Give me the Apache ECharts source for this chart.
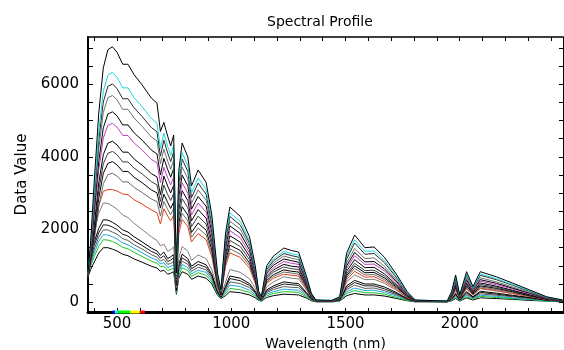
<!DOCTYPE html>
<html>
<head>
<meta charset="utf-8">
<title>Spectral Profile</title>
<script src="https://cdn.jsdelivr.net/npm/echarts@6.0.0/dist/echarts.min.js"></script>
<style>
html, body { margin: 0; padding: 0; background: #fff; }
#chart { width: 564px; height: 350px; }
</style>
</head>
<body>
<div id="chart"></div>
<script>
// wavelength samples (nm)
var wavelengths = [373,385,400,420,440,460,480,500,525,548,
  575,610,650,675,690,705,722,735,748,760,
  770,785,810,826,855,890,915,940,955,975,
  994,1040,1080,1105,1120,1132,1155,1185,1230,1265,
  1295,1330,1350,1370,1440,1475,1505,1540,1585,1625,
  1670,1725,1770,1805,1945,1965,1982,2000,2030,2058,
  2090,2160,2230,2305,2380,2450];

// spectra, brightest first
var s01 = [800,1700,3300,5200,6450,6950,7030,6880,6550,6550,
  6260,5980,5620,5480,4700,4950,4560,4300,4600,800,
  3600,4380,4000,3200,3640,3300,2400,800,340,1900,
  2620,2360,1800,1000,300,150,1000,1270,1490,1420,
  1380,700,250,60,50,150,1350,1850,1500,1520,
  1240,750,290,60,30,300,750,200,840,430,
  840,700,530,340,150,60];
var s02 = [780,1600,3000,4700,5800,6250,6330,6190,5900,5900,
  5630,5380,5060,4930,4230,4650,4290,4040,4320,750,
  3380,4120,3760,3010,3420,3100,2260,750,320,1790,
  2460,2220,1690,940,280,140,940,1190,1400,1330,
  1300,660,240,60,50,140,1260,1720,1400,1410,
  1150,700,270,60,30,280,700,190,780,400,
  780,650,490,320,140,60];
var s03 = [770,1550,2850,4450,5510,5940,6010,5880,5600,5600,
  5350,5110,4810,4690,4020,4460,4100,3870,4140,720,
  3240,3940,3600,2880,3280,2970,2160,720,310,1710,
  2360,2120,1620,900,270,140,900,1140,1340,1280,
  1240,630,230,50,40,130,1190,1630,1320,1340,
  1090,660,260,50,30,260,660,180,740,380,
  740,620,470,300,130,50];
var s04 = [760,1500,2700,4210,5220,5630,5690,5570,5310,5310,
  5070,4840,4550,4440,3810,4210,3880,3660,3910,680,
  3060,3720,3400,2720,3090,2810,2040,680,290,1620,
  2230,2010,1530,850,260,130,850,1080,1270,1210,
  1170,600,210,50,40,120,1080,1480,1200,1220,
  990,600,230,50,20,240,600,160,670,340,
  670,560,420,270,120,50];
var s05 = [740,1420,2500,3870,4800,5180,5240,5130,4880,4880,
  4660,4460,4190,4080,3500,3960,3650,3440,3680,640,
  2880,3500,3200,2560,2910,2640,1920,640,270,1520,
  2100,1890,1440,800,240,120,800,1020,1190,1140,
  1100,560,200,50,40,110,1000,1370,1110,1120,
  920,560,210,40,20,220,560,150,620,320,
  620,520,390,250,110,40];
var s06 = [730,1350,2350,3640,4520,4870,4920,4820,4590,4590,
  4380,4190,3930,3840,3290,3710,3420,3230,3450,600,
  2700,3290,3000,2400,2730,2480,1800,600,260,1430,
  1970,1770,1350,750,230,110,750,950,1120,1070,
  1040,530,190,50,30,100,930,1280,1040,1050,
  860,520,200,40,20,210,520,140,580,300,
  580,480,370,230,100,40];
var s07 = [710,1250,2100,3280,4060,4380,4430,4330,4130,4130,
  3940,3770,3540,3450,2960,3470,3190,3010,3220,560,
  2520,3070,2800,2240,2550,2310,1680,560,240,1330,
  1830,1650,1260,700,210,110,700,890,1040,990,
  970,490,180,40,30,90,850,1170,950,960,
  780,470,180,40,20,190,470,130,530,270,
  530,440,330,210,90,40];
var s08 = [700,1200,1970,3070,3810,4100,4150,4060,3860,3860,
  3690,3530,3320,3230,2770,3220,2960,2800,2990,520,
  2340,2850,2600,2080,2370,2150,1560,520,220,1240,
  1700,1530,1170,650,200,100,650,830,970,920,
  900,460,160,40,30,90,780,1070,870,880,
  720,440,170,30,20,170,440,120,490,250,
  490,410,310,200,90,30];
var s09 = [690,1150,1850,2860,3550,3820,3870,3780,3600,3600,
  3440,3290,3090,3010,2590,2970,2740,2580,2760,480,
  2160,2630,2400,1920,2180,1980,1440,480,200,1140,
  1570,1420,1080,600,180,90,600,760,890,850,
  830,420,150,40,30,80,730,1000,810,820,
  670,410,160,30,20,160,410,110,450,230,
  450,380,290,180,80,30];
var s10 = [680,1100,1700,2630,3260,3510,3550,3470,3310,3310,
  3160,3020,2840,2770,2370,2770,2550,2410,2580,450,
  2020,2450,2240,1790,2040,1850,1340,450,190,1060,
  1470,1320,1010,560,170,80,560,710,830,800,
  770,390,140,30,30,80,680,930,750,760,
  620,380,150,30,20,150,380,100,420,220,
  420,350,270,170,80,30];
var s11 = [680,1150,1800,2650,3050,3100,3100,3060,2980,2960,
  2820,2700,2540,2460,2150,2570,2370,2240,2390,420,
  1870,2280,2080,1660,1890,1720,1250,420,180,990,
  1360,1230,940,520,160,80,520,660,770,740,
  720,360,130,30,20,70,620,850,690,700,
  570,350,130,30,10,140,350,90,390,200,
  390,320,240,160,70,30];
var s12 = [900,1350,1950,2450,2730,2720,2650,2560,2400,2330,
  2170,2000,1800,1700,1550,1600,1400,1450,1520,400,
  1200,1530,1400,1150,1300,1200,900,350,180,550,
  900,820,640,380,150,80,420,560,700,660,
  640,330,130,40,30,80,560,750,620,630,
  520,320,130,40,20,120,300,90,360,190,
  370,310,240,160,80,40];
var s13 = [860,1200,1650,2030,2270,2260,2200,2120,1990,1930,
  1800,1660,1490,1410,1290,1380,1200,1250,1310,340,
  1030,1320,1200,990,1120,1030,770,300,150,440,
  720,660,510,300,120,60,340,450,560,530,
  510,260,100,30,20,60,450,600,500,500,
  420,260,100,30,20,100,240,70,290,150,
  300,250,190,130,60,30];
var s14 = [840,1150,1560,1910,2130,2120,2070,2000,1870,1820,
  1690,1560,1400,1330,1210,1280,1120,1160,1220,320,
  960,1220,1120,920,1040,960,720,280,140,400,
  650,590,460,270,110,60,300,400,500,480,
  460,240,90,30,20,60,400,540,450,450,
  370,230,90,30,10,90,220,60,260,140,
  270,220,170,120,60,30];
var s15 = [820,1100,1450,1790,1990,1990,1930,1870,1750,1700,
  1580,1460,1310,1240,1130,1180,1040,1070,1120,300,
  890,1130,1040,850,960,890,670,260,130,340,
  560,510,400,240,90,50,260,350,430,410,
  400,200,80,20,20,50,350,470,380,390,
  320,200,80,20,10,70,190,60,220,120,
  230,190,150,100,50,20];
var s16 = [800,1050,1350,1670,1860,1850,1800,1740,1630,1580,
  1480,1360,1220,1160,1050,1090,950,990,1030,270,
  820,1040,950,780,880,820,610,240,120,290,
  470,430,330,200,80,40,220,290,360,340,
  330,170,70,20,20,40,290,390,320,330,
  270,170,70,20,10,60,160,50,190,100,
  190,160,120,80,40,20];
var s17 = [780,1000,1250,1540,1720,1710,1670,1610,1510,1470,
  1370,1260,1130,1070,980,990,870,900,940,250,
  740,950,870,710,810,740,560,220,110,230,
  380,340,270,160,60,30,180,240,290,280,
  270,140,50,20,10,30,240,320,260,260,
  220,130,50,20,10,50,130,40,150,80,
  160,130,100,70,30,20];
var s18 = [700,900,1100,1350,1500,1500,1460,1410,1320,1280,
  1190,1100,990,940,850,880,770,800,840,220,
  660,840,770,630,720,660,500,190,100,180,
  290,260,200,120,50,30,130,180,220,210,
  200,110,40,10,10,30,180,240,200,200,
  170,100,40,10,10,40,100,30,120,60,
  120,100,80,50,30,10];

var spectra = [s01,s02,s03,s04,s05,s06,s07,s08,s09,s10,s11,s12,s13,s14,s15,s16,s17,s18];
var lineColors = ['#000000','#19d9e0','#2a2a2a','#707070','#000000','#c040c0',
  '#000000','#3c3c3c','#000000','#6a6a6a','#e0401a','#808080',
  '#000000','#1a1a1a','#5a5a5a','#18a8e0','#20c020','#000000'];

// ticks and labels
var xTicks = [400,500,600,700,800,900,1000,1100,1200,1300,1400,1500,1600,1700,1800,1900,2000,2100,2200,2300,2400];
var xLabels = [500,1000,1500,2000];
var yTicks = [0,500,1000,1500,2000,2500,3000,3500,4000,4500,5000,5500,6000,6500,7000];
var yLabels = [0,2000,4000,6000];

// visible-range colour strip under the x axis
var bandEdges = [481,491,506,557,600,622];
var bandColors = ['#0000ff','#00ffff','#00ff00','#ffff00','#ff0000'];

var xMin = 373, xMax = 2452, yMin = -270, yMax = 7300;
var font = 'DejaVu Sans';

var chart = echarts.init(document.getElementById('chart'));

var series = spectra.map(function (vals, i) {
  return {
    type: 'line',
    name: 'p' + (i + 1),
    data: wavelengths.map(function (w, j) { return [w, vals[j]]; }),
    showSymbol: false,
    symbol: 'none',
    silent: true,
    lineStyle: { width: 1, color: lineColors[i] },
    z: 3 + (spectra.length - i) / 100
  };
});

bandColors.forEach(function (c, i) {
  series.push({
    type: 'line',
    data: [[bandEdges[i], yMin], [bandEdges[i + 1], yMin]],
    showSymbol: false,
    symbol: 'none',
    silent: true,
    clip: false,
    lineStyle: { width: 3, color: c },
    z: 10
  });
});

function plain(v) { return String(v); }

chart.setOption({
  animation: false,
  backgroundColor: '#fff',
  title: {
    text: 'Spectral Profile',
    left: 262,
    top: 10,
    textStyle: { fontFamily: font, fontSize: 14, fontWeight: 'normal', color: '#000' }
  },
  grid: { left: 88, right: 1, top: 37, bottom: 38, outerBoundsMode: 'none', containLabel: false },
  xAxis: [{
    type: 'value', min: xMin, max: xMax, position: 'bottom',
    name: 'Wavelength (nm)', nameLocation: 'middle', nameGap: 19,
    nameTextStyle: { fontFamily: font, fontSize: 14, color: '#000' },
    axisLine: { onZero: false, lineStyle: { color: '#000', width: 3 } },
    axisTick: { show: true, inside: true, length: 4, customValues: xTicks, lineStyle: { color: '#000' } },
    axisLabel: { customValues: xLabels, formatter: plain, fontFamily: font, fontSize: 15, color: '#000', margin: 5 },
    splitLine: { show: false }
  }, {
    type: 'value', min: xMin, max: xMax, position: 'top',
    axisLine: { onZero: false, lineStyle: { color: '#000', width: 1.5 } },
    axisTick: { show: true, inside: true, length: 4, customValues: xTicks, lineStyle: { color: '#000' } },
    axisLabel: { show: false },
    splitLine: { show: false }
  }],
  yAxis: [{
    type: 'value', min: yMin, max: yMax, position: 'left',
    name: 'Data Value', nameLocation: 'middle', nameGap: 49,
    nameTextStyle: { fontFamily: font, fontSize: 15, color: '#000' },
    axisLine: { show: true, onZero: false, lineStyle: { color: '#000', width: 2 } },
    axisTick: { show: true, inside: true, length: 5, customValues: yTicks, lineStyle: { color: '#000' } },
    axisLabel: { customValues: yLabels, formatter: plain, fontFamily: font, fontSize: 15, color: '#000', margin: 9 },
    splitLine: { show: false }
  }, {
    type: 'value', min: yMin, max: yMax, position: 'right',
    axisLine: { show: true, onZero: false, lineStyle: { color: '#000', width: 1 } },
    axisTick: { show: true, inside: true, length: 4, customValues: yTicks, lineStyle: { color: '#000' } },
    axisLabel: { show: false },
    splitLine: { show: false }
  }],
  series: series
});
</script>
</body>
</html>
